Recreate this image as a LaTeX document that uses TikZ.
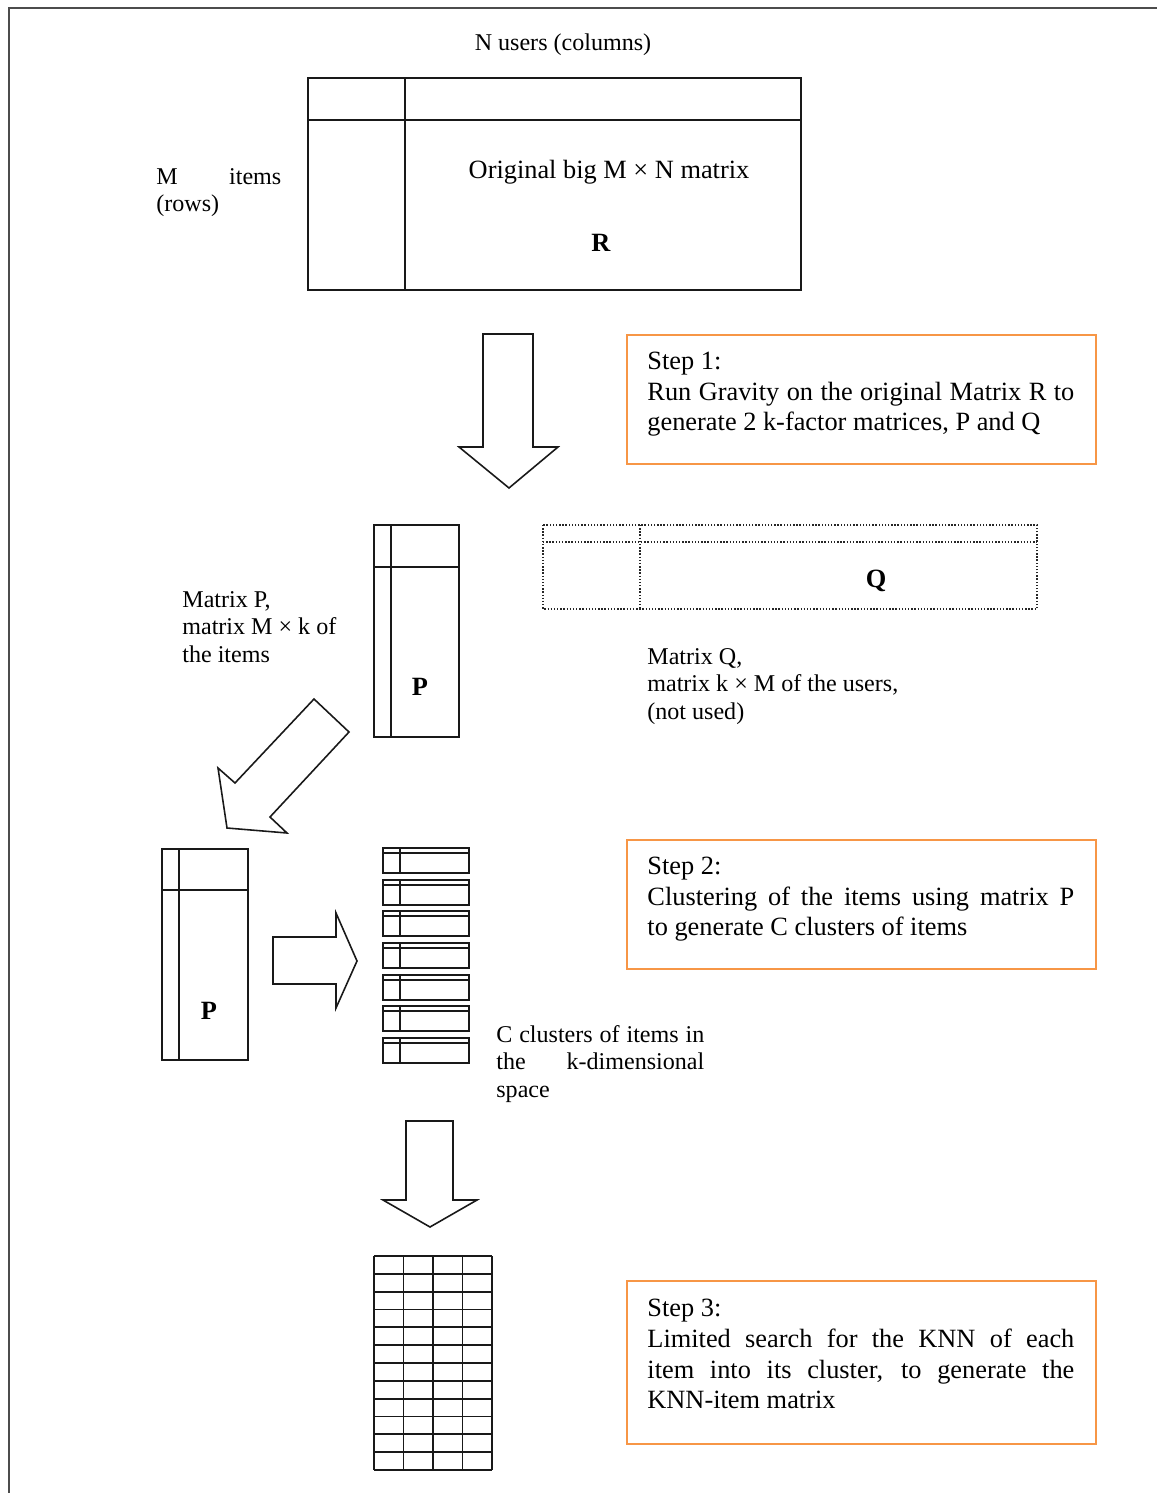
\documentclass[tikz,border=0pt]{standalone}
\usepackage{fontspec}
\setmainfont{Liberation Serif}
\usetikzlibrary{calc}
\definecolor{steporange}{RGB}{247,150,70}
\newcommand{\bigtext}{\fontsize{15}{17.4}\selectfont}
\newcommand{\smalltext}{\fontsize{13.7}{15.6}\selectfont}

\begin{document}
\begin{tikzpicture}[x=0.02cm, y=-0.02cm,
  frame/.style={draw=black!70, line width=0.8pt},
  mat/.style={draw=black!90, line width=1.1pt},
  qmat/.style={draw=black!85, line width=0.8pt, densely dotted},
  bigarrow/.style={draw=black!90, line width=0.9pt, fill=white, line join=miter},
  stepbox/.style={draw=steporange, line width=1.1pt, minimum width=9.38cm, inner sep=0pt},
  steptext/.style={anchor=north west, inner sep=0pt, text width=8.54cm, align=justify, font=\bigtext},
  lbl/.style={anchor=north west, inner sep=0pt, align=left, font=\smalltext},
  letter/.style={inner sep=0pt, font=\bigtext\bfseries}
]
\useasboundingbox (0,0) rectangle (1157,1493);
\draw[frame] (9,1493) -- (9,8) -- (1157,8);

% original matrix R
\node[inner sep=0pt, font=\smalltext] (users) at (563,45) {N users (columns)};
\node[lbl, text width=2.5cm] (items) at (156,168) {M\hfill items\\(rows)};
\draw[mat] (308,78) rectangle (801,290);
\draw[mat] (308,120) -- (801,120) (405,78) -- (405,290);
\node[inner sep=0pt, font=\bigtext] (orig) at (609,172) {Original big M × N matrix};
\node[letter] (R) at (601,243) {R};

% step 1
\draw[bigarrow] (483,334) -- (533,334) -- (533,447) -- (558,447) -- (509,488)
  -- (459,447) -- (483,447) -- cycle;
\node[stepbox, minimum height=2.58cm] (step1) at (861.5,399.5) {};
\node[steptext] (step1txt) at ($(step1.north west)+(21,18)$)
  {Step 1:\\ Run Gravity on the original Matrix R to\linebreak generate 2 k-factor matrices, P and Q};

% factor matrices P and Q
\draw[mat] (374,525) rectangle (459,737);
\draw[mat] (374,567) -- (459,567) (391,525) -- (391,737);
\node[letter] (P1) at (420,687) {P};
\node[lbl] (ptxt) at (182,591) {Matrix P,\\ matrix M × k of\\ the items};

\draw[qmat] (543,525) rectangle (1037,609);
\draw[qmat] (543,542) -- (1037,542) (640,525) -- (640,609);
\node[letter] (Q) at (876,581) {Q};
\node[lbl] (qtxt) at (647,648) {Matrix Q,\\ matrix k × M of the users,\\ (not used)};

\draw[bigarrow] (314,699) -- (349,732) -- (270,817) -- (287,833) -- (227,828)
  -- (218,768) -- (235,783) -- cycle;

% step 2
\draw[mat] (162,849) rectangle (248,1060);
\draw[mat] (162,890) -- (248,890) (179,849) -- (179,1060);
\node[letter] (P2) at (209,1011) {P};

\draw[bigarrow] (273,937) -- (336,937) -- (336,913) -- (357,961) -- (336,1008)
  -- (336,984) -- (273,984) -- cycle;

\foreach \k in {0,...,6}{
  \pgfmathsetmacro{\ytop}{848+31.67*\k}
  \draw[mat] (383,\ytop) rectangle (469,{\ytop+25});
  \draw[mat] (383,{\ytop+5}) -- (469,{\ytop+5}) (400,\ytop) -- (400,{\ytop+25});
}
\node[lbl, text width=4.16cm, align=justify] (ctxt) at (496,1025)
  {C clusters of items in\linebreak the k-dimensional\linebreak space};

\node[stepbox, minimum height=2.58cm] (step2) at (861.5,904.5) {};
\node[steptext] (step2txt) at ($(step2.north west)+(21,18)$)
  {Step 2:\\ Clustering of the items using matrix P\linebreak to generate C clusters of items};

% step 3
\draw[bigarrow] (406,1121) -- (453,1121) -- (453,1200) -- (477,1200) -- (430,1227)
  -- (383,1200) -- (406,1200) -- cycle;

\foreach \c in {0,...,4}
  \draw[mat] ({374+29.5*\c},1256) -- ({374+29.5*\c},1470);
\foreach \r in {0,...,12}
  \draw[mat] (374,{1256+17.833*\r}) -- (492,{1256+17.833*\r});

\node[stepbox, minimum height=3.26cm] (step3) at (861.5,1362.5) {};
\node[steptext] (step3txt) at ($(step3.north west)+(21,19)$)
  {Step 3:\\ Limited search for the KNN of each\linebreak item into its cluster, to generate the\linebreak KNN-item matrix};
\end{tikzpicture}
\end{document}
